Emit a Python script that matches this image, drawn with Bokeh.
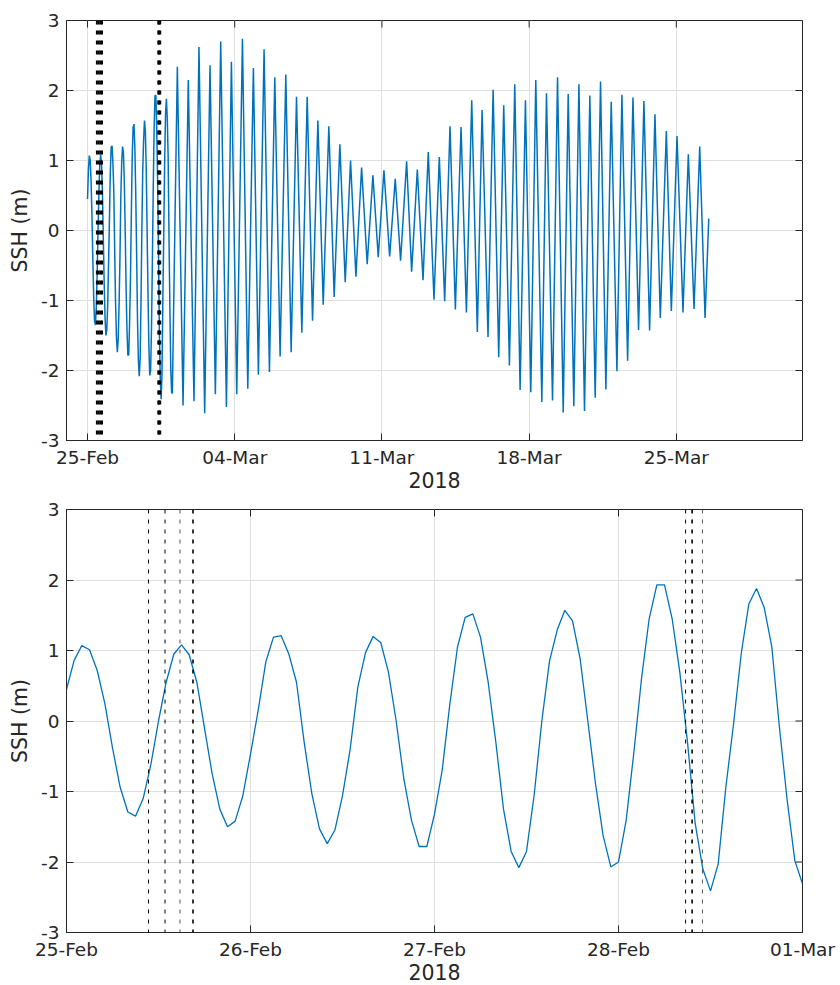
import numpy as np
from bokeh.plotting import figure
from bokeh.models import Span, FixedTicker
from bokeh.layouts import column
from bokeh.embed import file_html
from bokeh.resources import INLINE

# ---------------- data ----------------
# hourly SSH (m) from 25-Feb-2018 00:00 to 01-Mar-2018 00:00
hourly_ssh = [
    0.45, 0.86, 1.07, 1.01, 0.72, 0.25, -0.38, -0.94, -1.29, -1.35,
    -1.10, -0.62, 0.00, 0.55, 0.95, 1.08, 0.94, 0.55, -0.10, -0.75,
    -1.25, -1.50, -1.42, -1.06, -0.47, 0.15, 0.84, 1.19, 1.21, 0.95,
    0.55, -0.30, -1.03, -1.53, -1.74, -1.55, -1.06, -0.40, 0.48, 0.97,
    1.20, 1.11, 0.69, 0.00, -0.82, -1.41, -1.78, -1.78, -1.32, -0.70,
    0.24, 1.05, 1.47, 1.52, 1.19, 0.55, -0.30, -1.25, -1.85, -2.08,
    -1.85, -1.05, 0.00, 0.85, 1.29, 1.57, 1.42, 0.88, 0.00, -0.89,
    -1.63, -2.07, -2.00, -1.41, -0.45, 0.60, 1.45, 1.93, 1.93, 1.45,
    0.69, -0.30, -1.45, -2.10, -2.41, -2.03, -0.94, -0.05, 0.95, 1.66,
    1.88, 1.61, 1.05, -0.10, -1.12, -1.98, -2.31,
]

# high waters after 01-Mar (hours since 25-Feb 00:00, SSH m)
high_hours = [102.5, 115.0, 127.2, 139.8, 152.0, 164.2, 176.8, 189.3, 201.5, 213.7,
              226.3, 238.5, 250.7, 262.9, 275.4, 288.0, 300.2, 312.8, 325.7, 338.3,
              351.2, 364.2, 376.4, 388.9, 401.5, 413.7, 426.3, 438.5, 450.3, 462.9,
              475.0, 487.6, 499.8, 511.6, 523.8, 536.4, 548.6, 560.8, 573.3, 585.5,
              597.7, 609.9, 622.5, 635.0, 647.6, 660.6, 672.8, 685.7, 698.7]
high_ssh = [2.34, 2.15, 2.62, 2.36, 2.70, 2.41, 2.74, 2.32, 2.59, 2.19,
            2.23, 1.91, 1.91, 1.57, 1.49, 1.23, 1.00, 0.90, 0.79, 0.86,
            0.74, 0.99, 0.87, 1.12, 1.05, 1.49, 1.48, 1.86, 1.72, 2.01,
            1.79, 2.09, 1.86, 2.15, 1.96, 2.19, 1.95, 2.09, 1.93, 2.13,
            1.84, 1.94, 1.90, 1.85, 1.66, 1.42, 1.35, 1.09, 1.20]

# low waters after 01-Mar
low_hours = [96.8, 109.0, 121.5, 133.7, 145.9, 158.5, 170.3, 182.9, 195.0, 207.6,
             219.8, 232.4, 244.6, 256.8, 269.0, 281.5, 294.1, 306.3, 319.2, 331.8,
             344.8, 357.3, 369.9, 382.9, 395.4, 407.6, 419.8, 432.4, 444.9, 457.1,
             469.3, 481.5, 493.7, 505.9, 518.5, 530.7, 542.9, 555.0, 567.2, 579.4,
             591.6, 604.2, 616.4, 628.9, 641.5, 653.7, 666.3, 679.6, 692.2, 704.8]
low_ssh = [-2.33, -2.50, -2.44, -2.61, -2.34, -2.52, -2.34, -2.26, -2.06, -2.02,
           -1.80, -1.74, -1.46, -1.29, -1.06, -0.95, -0.74, -0.66, -0.48, -0.38,
           -0.37, -0.43, -0.59, -0.71, -0.99, -1.01, -1.13, -1.17, -1.45, -1.52,
           -1.81, -1.93, -2.28, -2.31, -2.45, -2.43, -2.60, -2.51, -2.58, -2.39,
           -2.27, -2.01, -1.86, -1.42, -1.43, -1.25, -1.15, -1.17, -1.12, -1.25]

end_hours = [709.0]
end_ssh = [0.17]

# event times (hours since 25-Feb 00:00)
event_hours = [10.7, 12.85, 14.8, 16.5, 80.75, 81.6, 82.95]

top_tick_days = [0, 7, 14, 21, 28]
top_tick_labels = ["25-Feb", "04-Mar", "11-Mar", "18-Mar", "25-Mar"]
bottom_tick_days = [0, 1, 2, 3, 4]
bottom_tick_labels = ["25-Feb", "26-Feb", "27-Feb", "28-Feb", "01-Mar"]
y_ticks = [-3, -2, -1, 0, 1, 2, 3]
y_tick_labels = ["-3", "-2", "-1", "0", "1", "2", "3"]
x_title = "2018"
y_title = "SSH (m)"

# ---------------- build series ----------------
hours_hourly = np.arange(len(hourly_ssh), dtype=float)
ext_t = np.array(high_hours + low_hours + end_hours)
ext_v = np.array(high_ssh + low_ssh + end_ssh)
order = np.argsort(ext_t)
ext_t, ext_v = ext_t[order], ext_v[order]
keep = ext_t > hours_hourly[-1]
top_t = np.concatenate([hours_hourly, ext_t[keep]]) / 24.0
top_v = np.concatenate([np.array(hourly_ssh), ext_v[keep]])
bot_t = hours_hourly / 24.0
bot_v = np.array(hourly_ssh)

# ---------------- styles ----------------
AX = "#262626"
GRID = "#dfdfdf"
BLUE = "#0072BD"
FONT = "DejaVu Sans"
FS_TICK = "18.5px"
FS_LABEL = "20.5px"
TICK_LEN = 7
event_colors = ["#000000", "#000000", "#555555", "#000000", "#000000", "#000000", "#555555"]
event_widths = [1.0, 1.0, 1.0, 1.6, 1.0, 1.6, 1.0]


def make_fig(height, top_border, bottom_border, x_range, xticks, xlabels):
    p = figure(width=840, height=height, x_range=x_range, y_range=(-3, 3),
               output_backend="svg", toolbar_location=None,
               min_border_left=66, min_border_right=38,
               min_border_top=top_border, min_border_bottom=bottom_border)
    p.background_fill_color = "white"
    p.border_fill_color = "white"
    p.outline_line_color = AX
    p.outline_line_width = 1
    p.xaxis.ticker = FixedTicker(ticks=xticks)
    p.xaxis.major_label_overrides = {t: l for t, l in zip(xticks, xlabels)}
    p.yaxis.ticker = FixedTicker(ticks=y_ticks)
    p.yaxis.major_label_overrides = {t: l for t, l in zip(y_ticks, y_tick_labels)}
    for ax in (p.xaxis[0], p.yaxis[0]):
        ax.axis_line_color = AX
        ax.major_tick_line_color = AX
        ax.major_tick_in = TICK_LEN
        ax.major_tick_out = 0
        ax.minor_tick_line_color = None
        ax.major_label_text_font = FONT
        ax.major_label_text_font_size = FS_TICK
        ax.major_label_text_color = AX
        ax.axis_label_text_font = FONT
        ax.axis_label_text_font_size = FS_LABEL
        ax.axis_label_text_font_style = "normal"
        ax.axis_label_text_color = AX
    p.xaxis.major_label_standoff = 6
    p.xaxis.axis_label_standoff = 1
    p.yaxis.major_label_standoff = 7
    p.yaxis.axis_label_standoff = 6
    p.xaxis.axis_label = x_title
    p.yaxis.axis_label = y_title
    # mirrored tick marks on the top and right edges (box on)
    x0, x1 = x_range
    p.ray(x=xticks, y=[3] * len(xticks), length=TICK_LEN, length_units="screen",
          angle=-np.pi / 2, line_color=AX, line_width=1)
    p.ray(x=[x1] * len(y_ticks), y=y_ticks, length=TICK_LEN, length_units="screen",
          angle=np.pi, line_color=AX, line_width=1)
    p.xgrid.grid_line_color = GRID
    p.ygrid.grid_line_color = GRID
    p.xgrid.grid_line_width = 1
    p.ygrid.grid_line_width = 1
    return p


p1 = make_fig(498, 20, 58, (-1, 34), top_tick_days, top_tick_labels)
p1.line(top_t, top_v, line_color=BLUE, line_width=1.5)
for h in event_hours:
    p1.add_layout(Span(location=h / 24.0, dimension="height", line_color="#000000",
                       line_width=2.0, line_dash="4 6"))

p2 = make_fig(487, 11, 53, (0, 4), bottom_tick_days, bottom_tick_labels)
for h, c, w in zip(event_hours, event_colors, event_widths):
    p2.add_layout(Span(location=h / 24.0, dimension="height", line_color=c,
                       line_width=w, line_dash="4 6"))
p2.line(bot_t, bot_v, line_color=BLUE, line_width=1.3)

layout = column(p1, p2, spacing=0)
open("out.html", "w").write(file_html(layout, INLINE))
